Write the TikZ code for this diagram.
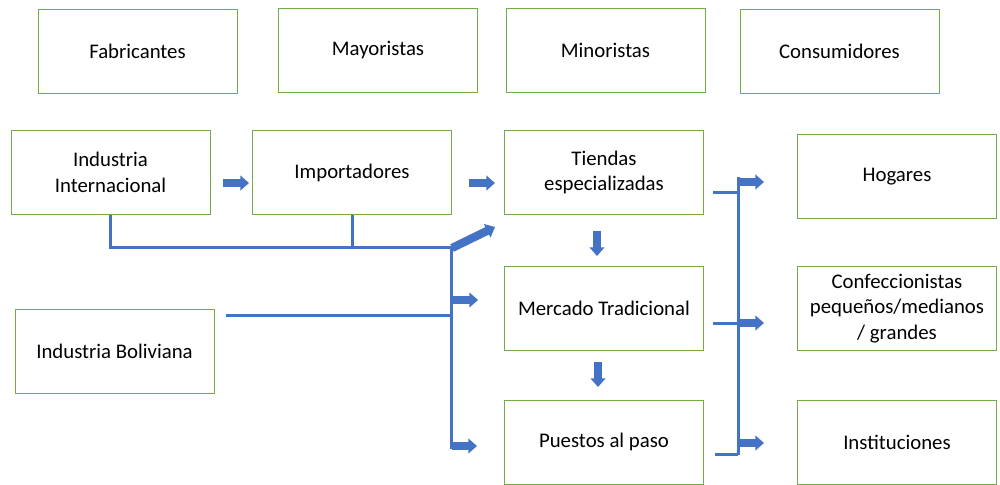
\documentclass[tikz,border=0pt]{standalone}
\usepackage{fontspec}
\setmainfont{Carlito}
\usetikzlibrary{arrows.meta}
\definecolor{bgreen}{HTML}{70AD47}
\definecolor{oblue}{HTML}{4472C4}
\begin{document}
\begin{tikzpicture}[x=0.75pt,y=-0.75pt,
  box/.style={draw=bgreen, line width=0.6pt, minimum width=149.25pt, minimum height=63pt, align=center, font=\fontsize{15.6pt}{19pt}\selectfont, inner sep=2pt},
  ln/.style={draw=oblue, line width=2.25pt},
  blk/.style={draw=oblue, line width=6.2pt, -{Triangle[length=6.5pt,width=11pt]}}]
\useasboundingbox (0,0) rectangle (1000,485);
\node[box] (fab) at (137.5,51) {Fabricantes};
\node[box] (may) at (378,50.5) {Mayoristas};
\node[box] (min) at (605.5,50.5) {Minoristas};
\node[box] (con) at (839.5,51) {Consumidores};
\node[box] (ii) at (110.5,172.5) {Industria\\Internacional};
\node[box] (imp) at (352,172.5) {Importadores};
\node[box] (tie) at (604,172.5) {Tiendas\\especializadas};
\node[box] (hog) at (897,176.5) {Hogares};
\node[box] (ib) at (114.5,351) {Industria Boliviana};
\node[box] (mer) at (604,308.5) {Mercado Tradicional};
\node[box] (conf) at (897,308.5) {Confeccionistas\\pequeños/medianos\\/ grandes};
\node[box] (pue) at (604,442) {Puestos al paso};
\node[box] (ins) at (897,442) {Instituciones};
% left junctions
\coordinate (j1) at (451,247);
\coordinate (j2) at (451,315);
\coordinate (j3) at (451,449);
\coordinate (ibs) at (226,315);
\draw[ln] (ii.south) |- (j1);
\draw[ln] (imp.south) -- (imp.south |- j1);
\draw[ln] (j1) -- (j3);
\draw[ln] (ibs) -- (j2);
% block arrows left
\draw[blk] (223,183) -- (249,183);
\draw[blk] (469,183) -- (495,183);
\draw[blk] (452,248) -- (495,227);
\draw[blk] (452,300) -- (478,300);
\draw[blk] (452,446) -- (477,446);
\draw[blk] (597,231) -- (597,256);
\draw[blk] (598,362) -- (598,387);
% right side
\coordinate (r1) at (738,177);
\coordinate (r2) at (738,455);
\coordinate (s1) at (713,192);
\coordinate (s2) at (713,323);
\coordinate (s3) at (715,454);
\draw[ln] (r1) -- (r2);
\draw[ln] (s1) -- (s1 -| r1);
\draw[ln] (s2) -- (s2 -| r1);
\draw[ln] (s3) -- (s3 -| r1);
\draw[blk] (738,182) -- (764,182);
\draw[blk] (738,323) -- (764,323);
\draw[blk] (738,443) -- (764,443);
\end{tikzpicture}
\end{document}
